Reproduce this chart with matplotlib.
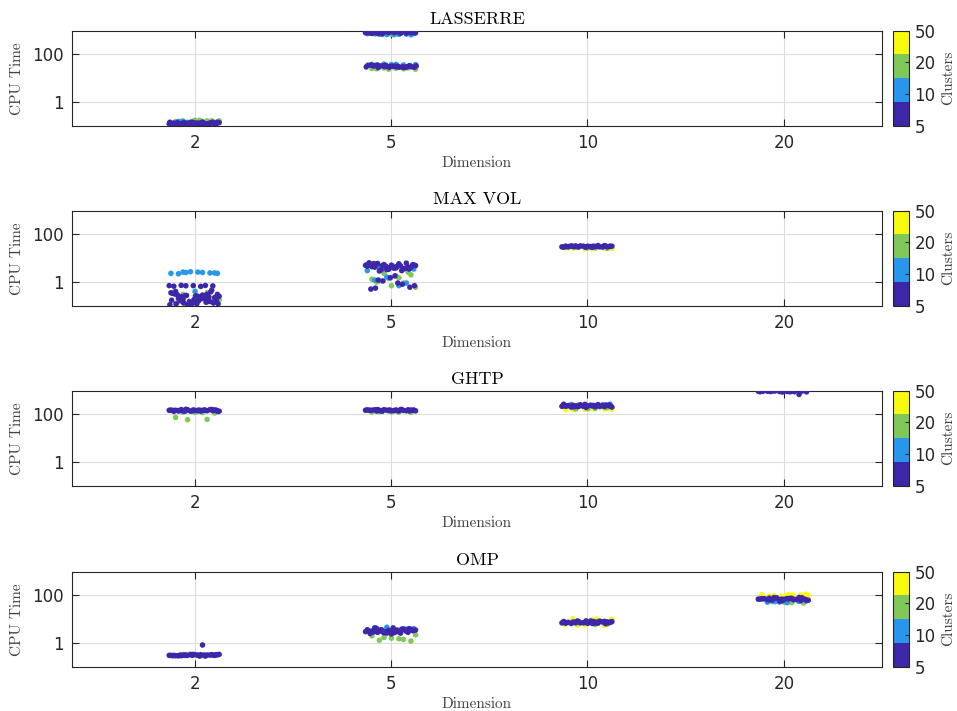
import matplotlib
matplotlib.use("Agg")
import matplotlib.pyplot as plt
import numpy as np
from matplotlib.colors import ListedColormap

# Dimensiones (categorías del eje x) y número de clusters (color)
dims = [2, 5, 10, 20]
clusters = [5, 10, 20, 50]
methods = ["LASSERRE", "MAX VOL", "GHTP", "OMP"]

# Tiempos de CPU: {clusters: [tiempos]} por método y dimensión
lasserre_d2 = {
    5: [0.12, 0.13, 0.11, 0.14, 0.12, 0.13, 0.12, 0.11, 0.14, 0.13, 0.12, 0.13, 0.11, 0.12, 0.14, 0.13,
        0.12, 0.13, 0.11, 0.12, 0.125, 0.135, 0.115, 0.12, 0.13, 0.14, 0.11, 0.125, 0.13, 0.12,
        0.115, 0.135, 0.12, 0.13, 0.14, 0.12],
    10: [0.13, 0.14, 0.12, 0.15, 0.13, 0.14, 0.12, 0.14, 0.15, 0.13],
    20: [0.15, 0.16, 0.14, 0.17, 0.15, 0.16, 0.14, 0.16, 0.17, 0.15, 0.16, 0.15],
    50: [],
}
lasserre_d5 = {
    5: [820, 900, 780, 860, 940, 800, 870, 760, 910, 850, 880, 790, 930, 830, 870, 810,
        840, 890, 770, 920, 860, 810, 950, 800, 880, 840, 900, 780, 860, 830,
        31, 33, 29, 35, 30, 32, 28, 34, 31, 36, 30, 33, 29, 32, 34, 30,
        31, 35, 29, 33, 30, 32, 34, 28, 31, 33, 30, 36, 32, 29],
    10: [700, 760, 680, 740, 720, 690, 750, 710, 730, 670, 37, 38, 36, 39, 37, 38],
    20: [720, 700, 740, 710, 26, 25, 27, 24, 26, 25, 27, 24],
    50: [],
}
maxvol_d2 = {
    5: [0.7, 0.65, 0.72, 0.68, 0.7, 0.66, 0.71, 0.69,
        0.3, 0.25, 0.2, 0.15, 0.12, 0.35, 0.28, 0.18, 0.22, 0.14, 0.4, 0.3, 0.11, 0.25, 0.19, 0.16,
        0.45, 0.13, 0.33, 0.21, 0.26, 0.17, 0.12, 0.29, 0.23, 0.15, 0.11, 0.2, 0.24, 0.13, 0.18, 0.32,
        0.14, 0.27, 0.12, 0.16, 0.21, 0.38, 0.11, 0.17, 0.22, 0.13, 0.19, 0.26, 0.12, 0.15],
    10: [2.5, 2.3, 2.6, 2.2, 2.4, 2.7, 2.3, 2.5, 2.6, 2.4, 0.4, 0.3],
    20: [0.2, 0.3, 0.15, 0.25, 0.12, 0.35, 0.11, 0.18],
    50: [],
}
maxvol_d5 = {
    5: [5, 4.5, 6, 3.5, 4, 5.5, 3, 4.8, 5.2, 3.8, 4.2, 6.2, 3.3, 4.6, 5.8, 2.9, 4.1, 5.1,
        4.4, 3.6, 5.4, 4.9, 3.9, 5.7, 4.3, 3.4, 6.4, 4.7, 3.2, 5.3, 4.0, 5.9, 3.7, 4.6, 5.1,
        0.9, 1.2, 0.6, 1.5, 0.5, 0.8, 1.1, 0.7, 1.8, 0.55],
    10: [4, 3.5, 4.5, 1.2, 0.9, 1.6, 3, 0.7, 4.2, 3.8],
    20: [1.5, 1.1, 2, 0.7, 1.3, 0.9, 2.3, 0.6, 1.8, 1.0, 2.6, 1.4],
    50: [],
}
maxvol_d10 = {
    5: [30, 32, 31, 33, 29, 31, 34, 30, 32, 31, 33, 30, 32, 29, 31, 33, 30, 32,
        31, 30, 33, 32, 29, 31, 34, 30, 32, 31],
    10: [30, 31, 29, 32, 30],
    20: [27, 28, 26, 27, 28],
    50: [26, 25, 27, 26, 25, 27],
}
ghtp_d2 = {
    5: [150, 140, 160, 145, 155, 135, 150, 165, 140, 150, 145, 160, 138, 152, 148, 142, 155, 147,
        150, 143, 158, 137, 152, 146, 162, 141, 149, 155, 139, 151],
    10: [140, 130, 135, 138],
    20: [120, 125, 115, 122, 75, 62, 60],
    50: [],
}
ghtp_d5 = {
    5: [150, 145, 160, 140, 155, 148, 162, 138, 152, 146, 158, 143, 150, 156, 141, 149, 153, 144,
        151, 147, 159, 142, 154, 139, 157, 145, 150, 161, 143, 148],
    10: [140, 150, 145],
    20: [125, 130, 122, 128, 126],
    50: [],
}
ghtp_d10 = {
    5: [220, 240, 210, 250, 200, 230, 260, 215, 225, 245, 205, 235, 220, 270, 210, 230, 240, 225,
        235, 215, 255, 205, 228, 242, 212, 265, 222, 238, 218, 248],
    10: [250, 270, 240, 260, 255],
    20: [180, 170, 190, 175],
    50: [165, 175, 160, 170, 168, 162],
}
ghtp_d20 = {
    5: [950, 900, 920, 960, 880, 940, 910, 970, 890, 930, 950, 700, 920, 900, 940, 960],
    10: [],
    20: [],
    50: [],
}
omp_d2 = {
    5: [0.3, 0.32, 0.29, 0.31, 0.33, 0.3, 0.28, 0.31, 0.32, 0.3, 0.29, 0.31, 0.33, 0.3, 0.82, 0.31,
        0.3, 0.32, 0.29, 0.31, 0.3, 0.33, 0.28, 0.31, 0.32, 0.3, 0.29, 0.31, 0.3, 0.32],
    10: [0.3, 0.32, 0.31, 0.29],
    20: [0.29, 0.31, 0.3],
    50: [],
}
omp_d5 = {
    5: [3, 3.5, 2.8, 4, 3.2, 2.5, 3.8, 3, 3.4, 2.7, 4.2, 3.1, 2.6, 3.6, 2.9, 3.3, 3.7, 2.4,
        3.2, 3.9, 2.7, 3.5, 3.0, 4.1, 2.8, 3.4, 3.1, 2.6, 3.6, 3.3, 4.3, 2.9, 3.5, 3.0],
    10: [3.5, 4, 3, 4.4, 3.8, 4.6],
    20: [1.5, 1.3, 1.2, 1.6, 2, 1.4, 1.7, 2.2],
    50: [],
}
omp_d10 = {
    5: [7, 8, 7.5, 6.5, 8.5, 7.2, 6.8, 7.8, 7.4, 8.2, 6.6, 7.6, 7.1, 8, 6.9, 7.3, 7.7, 6.7,
        7.4, 8.3, 7.0, 7.9, 6.6, 7.5, 8.1, 7.2, 6.8, 7.6, 8.4, 7.1],
    10: [8, 7.5, 8.5],
    20: [6, 6.5, 6.2],
    50: [10, 9.5, 10.5, 5.5, 5.8, 6, 10.2, 5.6],
}
omp_d20 = {
    5: [70, 75, 65, 80, 60, 72, 68, 78, 62, 74, 66, 82, 58, 70, 76, 64, 71, 69,
        73, 67, 79, 63, 72, 77, 61, 70, 74, 66, 81, 68],
    10: [55, 60, 50, 52, 56, 53],
    20: [50, 55, 48, 52],
    50: [100, 110, 95, 105, 90, 108, 102, 98, 112, 96],
}

data = {
    "LASSERRE": {2: lasserre_d2, 5: lasserre_d5},
    "MAX VOL": {2: maxvol_d2, 5: maxvol_d5, 10: maxvol_d10},
    "GHTP": {2: ghtp_d2, 5: ghtp_d5, 10: ghtp_d10, 20: ghtp_d20},
    "OMP": {2: omp_d2, 5: omp_d5, 10: omp_d10, 20: omp_d20},
}

# colormap parula con 4 niveles
parula4 = ListedColormap(["#3E26A8", "#2796EB", "#80C85A", "#F9FB0E"])

fig = plt.figure(figsize=(9.57, 7.11), dpi=100)
W, H = 957, 711
ax_left, ax_w = 72 / W, 810 / W
ax_h = 95 / H
tops = [30.7, 210.7, 390.7, 571.7]
serif = "cmr10"
dark = "#262626"
jit = 0.13

for m, top in zip(methods, tops):
    ax = fig.add_axes([ax_left, 1 - (top + 95) / H, ax_w, ax_h])
    sc = None
    for j, d in enumerate(dims):
        if d not in data[m]:
            continue
        grp = data[m][d]
        # dibujar primero los clusters grandes, los de 5 quedan encima
        for k in [3, 2, 1, 0]:
            vals = np.array(grp[clusters[k]], dtype=float)
            if len(vals) == 0:
                continue
            idx = np.arange(len(vals)) + 7 * k
            off = ((idx * 0.6180339887) % 1.0 - 0.5) * 2 * jit
            sc = ax.scatter(j + 1 + off, vals, c=np.full(len(vals), k + 1), cmap=parula4,
                            vmin=1, vmax=4, s=16, linewidths=0, zorder=3)
    ax.set_yscale("log")
    ax.set_ylim(0.1, 1000)
    ax.set_xlim(0.375, 4.5)
    ax.set_xticks(range(1, 5))
    ax.set_xticklabels([str(d) for d in dims])
    ax.set_yticks([1, 100])
    ax.set_yticklabels(["1", "100"])
    ax.minorticks_off()
    ax.grid(True, color="#dcdcdc", linewidth=0.8, zorder=0)
    ax.set_axisbelow(True)
    ax.tick_params(direction="in", top=True, right=True, length=5, width=0.8,
                   colors=dark, labelsize=12, pad=6)
    for sp in ax.spines.values():
        sp.set_color(dark)
        sp.set_linewidth(0.8)
    ax.set_title(m, fontfamily=serif, fontsize=13, color="black", pad=5)
    ax.set_xlabel("Dimension", fontfamily=serif, fontsize=11, color="#404040", labelpad=3)
    ax.set_ylabel("CPU Time", fontfamily=serif, fontsize=11, color="#404040", labelpad=6)

    cax = fig.add_axes([893 / W, 1 - (top + 95) / H, 16 / W, ax_h])
    cb = fig.colorbar(sc, cax=cax, ticks=[1, 2, 3, 4])
    cb.ax.set_yticklabels([str(c) for c in clusters])
    cb.ax.tick_params(direction="in", length=3, width=0.8, colors=dark, labelsize=12, pad=4)
    cb.outline.set_edgecolor(dark)
    cb.outline.set_linewidth(0.8)
    cb.set_label("Clusters", fontfamily=serif, fontsize=11, color="#404040", labelpad=4)

fig.savefig("out.png", dpi=100)
